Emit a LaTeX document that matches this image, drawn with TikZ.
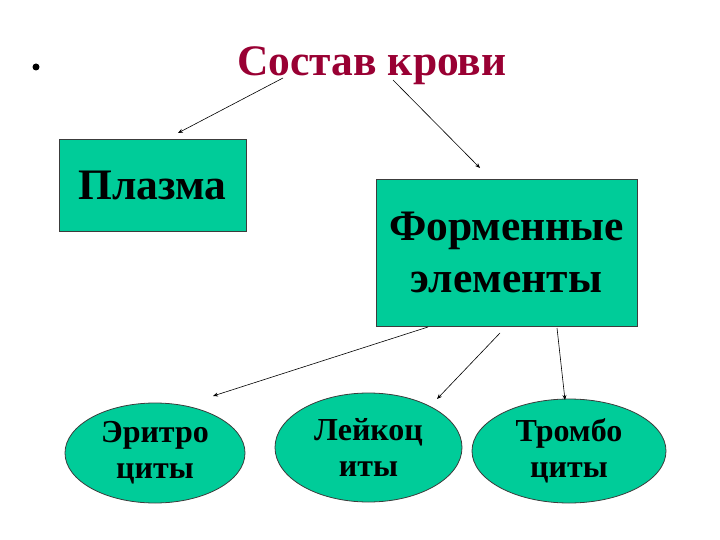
\documentclass[tikz,border=0pt]{standalone}
\usepackage{fontspec}
\setmainfont{Liberation Serif}
\usetikzlibrary{shapes.geometric,arrows.meta}
\definecolor{boxgreen}{RGB}{0,204,153}
\definecolor{titlered}{RGB}{153,0,51}
\definecolor{edgegray}{RGB}{60,60,60}
\tikzset{
  box/.style={draw=edgegray, line width=0.8pt, fill=boxgreen, inner sep=0pt, font=\bfseries\fontsize{43.5}{52}\selectfont, align=center},
  oval/.style={ellipse, draw=edgegray, line width=0.8pt, fill=boxgreen, inner sep=0pt, font=\bfseries\fontsize{32}{36}\selectfont, align=center},
  conn/.style={line width=0.6pt, -{Stealth[length=5pt,width=4pt]}}
}
\begin{document}
\begin{tikzpicture}[x=1pt,y=-1pt]
\useasboundingbox (0,0) rectangle (720,540);
\node[circle, fill=black, inner sep=0pt, minimum size=7pt] (bullet) at (36,67) {};
\node[text=titlered, font=\bfseries\fontsize{43.5}{52}\selectfont] (title) at (372,66) {Состав крови};
\node[box, minimum width=187pt, minimum height=92pt] (plasma) at (152.5,185) {\raisebox{-3pt}{Плазма}};
\node[box, minimum width=261pt, minimum height=147pt] (form) at (506.5,252.5) {Форменные\\элементы};
\node[oval, minimum width=180pt, minimum height=100pt] (e1) at (155,453) {Эритро\\циты};
\node[oval, minimum width=187pt, minimum height=109pt] (e2) at (368.5,447.5) {Лейкоц\\иты};
\node[oval, minimum width=194pt, minimum height=104pt] (e3) at (569,451) {Тромбо\\циты};
\coordinate (t1) at (283,78);
\coordinate (t2) at (393,80);
\coordinate (p1) at (178,133);
\coordinate (f1) at (480,168);
\coordinate (s1) at (428,327);
\coordinate (s2) at (500,333);
\coordinate (s3) at (557,328);
\coordinate (a1) at (213,396);
\coordinate (a2) at (437,399);
\coordinate (a3) at (565,400);
\draw[conn] (t1) -- (p1);
\draw[conn] (t2) -- (f1);
\draw[conn] (s1) -- (a1);
\draw[conn] (s2) -- (a2);
\draw[conn] (s3) -- (a3);
\end{tikzpicture}
\end{document}
